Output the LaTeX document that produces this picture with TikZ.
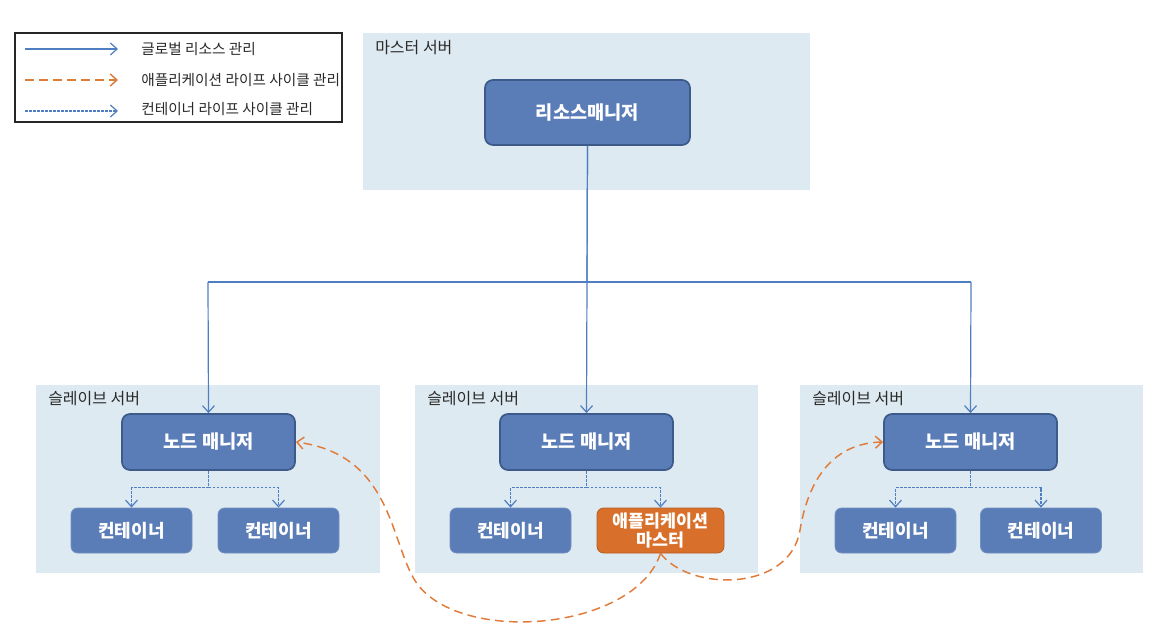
\documentclass[tikz,border=0pt]{standalone}
\usepackage{fontspec}
\setmainfont{Noto Sans CJK KR}
\usetikzlibrary{arrows.meta}
\definecolor{bgblue}{HTML}{DEEAF1}
\definecolor{boxfill}{HTML}{5A7DB7}
\definecolor{boxedge}{HTML}{3C5A8A}
\definecolor{amfill}{HTML}{D8702C}
\definecolor{amedge}{HTML}{B85C1E}
\definecolor{linkblue}{HTML}{4F7EC2}
\definecolor{linkorange}{HTML}{E07C3A}
\definecolor{labelgray}{HTML}{2A2A2A}
\tikzset{
  bgpanel/.style={fill=bgblue, draw=none},
  panellabel/.style={anchor=west, inner sep=0pt, text=labelgray, font=\fontsize{12pt}{14pt}\selectfont},
  mainbox/.style={draw=boxedge, line width=1.3pt, fill=boxfill, rounded corners=6pt, text=white, font=\bfseries\fontsize{14pt}{16pt}\selectfont, align=center},
  contbox/.style={draw=boxfill!85!white, line width=0.6pt, fill=boxfill, rounded corners=5pt, text=white, font=\bfseries\fontsize{13.5pt}{15pt}\selectfont, align=center, minimum width=90.75pt, minimum height=33.75pt, inner sep=1pt},
  ambox/.style={draw=amedge, line width=0.6pt, fill=amfill, rounded corners=5pt, text=white, font=\bfseries\fontsize{13pt}{14.5pt}\selectfont, align=center, minimum width=95.25pt, minimum height=33.75pt, inner sep=0pt},
  tip/.style={-{Straight Barb[length=5pt,width=9pt]}},
  globallink/.style={draw=linkblue, line width=0.9pt},
  amlink/.style={draw=linkorange, line width=1.1pt, dash pattern=on 6.5pt off 4pt},
  contlink/.style={draw=linkblue, line width=0.9pt, dash pattern=on 2pt off 1pt},
  legendtext/.style={anchor=west, inner sep=0pt, text=labelgray, font=\fontsize{11pt}{13pt}\selectfont},
}
\begin{document}
\begin{tikzpicture}[x=0.75pt, y=-0.75pt]
\useasboundingbox (0,0) rectangle (1170,638);
\fill[white] (0,0) rectangle (1170,638);

% legend
\draw[line width=1pt, draw=black!85] (15,33) rectangle (342,122);
\coordinate (l1a) at (25,49); \coordinate (l1b) at (118,49);
\coordinate (l2a) at (25,80); \coordinate (l2b) at (118,80);
\coordinate (l3a) at (25,111); \coordinate (l3b) at (118,111);
\draw[globallink, tip] (l1a) -- (l1b);
\draw[amlink, tip] (l2a) -- (l2b);
\draw[contlink, tip] (l3a) -- (l3b);
\node[legendtext] (lt1) at (141,49) {글로벌 리소스 관리};
\node[legendtext] (lt2) at (141,80) {애플리케이션 라이프 사이클 관리};
\node[legendtext] (lt3) at (141,109) {컨테이너 라이프 사이클 관리};

% panels
\path[bgpanel] (363,33) rectangle (810,190);
\path[bgpanel] (36,385) rectangle (380,573);
\path[bgpanel] (415,385) rectangle (758,573);
\path[bgpanel] (800,385) rectangle (1143,573);
\node[panellabel] (pm) at (375,48) {마스터 서버};
\node[panellabel] (ps1) at (48,399) {슬레이브 서버};
\node[panellabel] (ps2) at (427,399) {슬레이브 서버};
\node[panellabel] (ps3) at (812,399) {슬레이브 서버};

% nodes
\node[mainbox, minimum width=153.75pt, minimum height=48.75pt] (rm) at (587.5,112.5) {리소스매니저};
\node[mainbox, minimum width=129.75pt, minimum height=42pt] (nm1) at (208.5,442) {노드 매니저};
\node[mainbox, minimum width=129.75pt, minimum height=42pt] (nm2) at (586.5,442) {노드 매니저};
\node[mainbox, minimum width=129.75pt, minimum height=42pt] (nm3) at (970.5,442) {노드 매니저};

\node[contbox] (c1) at (131.5,530.5) {컨테이너};
\node[contbox] (c2) at (278.5,530.5) {컨테이너};
\node[contbox] (c3) at (510.5,530.5) {컨테이너};
\node[ambox] (am) at (660.5,530.5) {애플리케이션\\마스터};
\node[contbox] (c5) at (895.5,530.5) {컨테이너};
\node[contbox] (c6) at (1041,530.5) {컨테이너};

% global resource links
\coordinate (jl) at (208,282);
\coordinate (jr) at (971,282);
\draw[globallink] (rm.south) -- (587,282);
\draw[globallink] (jl) -- (jr);
\draw[globallink, tip] (rm.south) -- (nm2.north);
\draw[globallink, tip] (jl) -- (nm1.north);
\draw[globallink, tip] (jr) -- (nm3.north);

% container links
\foreach \n/\a/\b in {nm1/c1/c2, nm2/c3/am, nm3/c5/c6}{
  \draw[contlink] (\n.south) -- ++(0,17) coordinate (\n-j);
  \draw[contlink, tip] (\n-j) -| (\a.north);
  \draw[contlink, tip] (\n-j) -| (\b.north);
}

% application lifecycle links
\draw[amlink, tip] (am.south) .. controls (635,630) and (465,645) .. (418,585)
   .. controls (390,548) and (395,455) .. (nm1.east);
\draw[amlink, tip] (am.south) .. controls (690,592) and (790,592) .. (800,530)
   .. controls (810,470) and (840,443) .. (nm3.west);
\end{tikzpicture}
\end{document}
